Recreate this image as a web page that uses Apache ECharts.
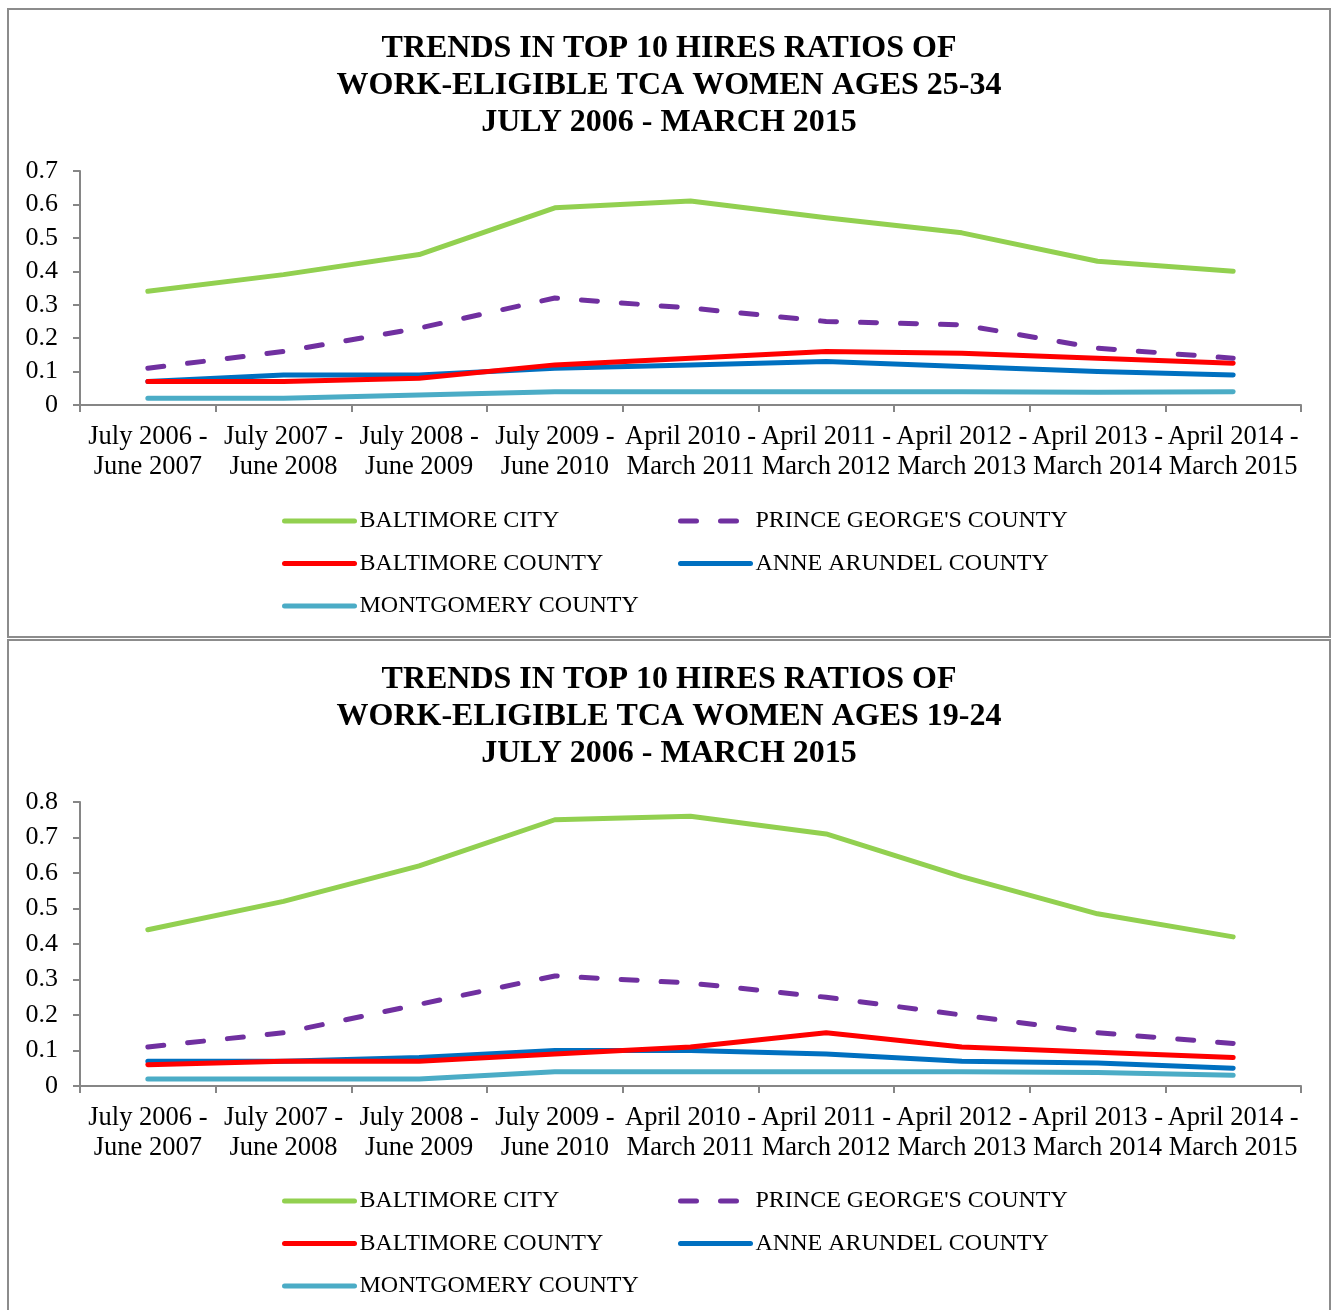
<!DOCTYPE html>
<html>
<head>
<meta charset="utf-8">
<script src="https://cdn.jsdelivr.net/npm/echarts@6/dist/echarts.min.js"></script>
<style>
body { margin: 0; background: #fff; }
.box {
    position: absolute;
    left: 7px;
    width: 1320px;
    border: 2px solid #8c8c8c;
    background: #fff;
}
#chart1 { top: 8px; height: 626px; }
#chart2 { top: 639px; height: 676px; }
</style>
</head>
<body>
<div class="box" id="chart1"></div>
<div class="box" id="chart2"></div>
<script>
var categories = [
    'July 2006 -\nJune 2007', 'July 2007 -\nJune 2008', 'July 2008 -\nJune 2009',
    'July 2009 -\nJune 2010', 'April 2010 -\nMarch 2011', 'April 2011 -\nMarch 2012',
    'April 2012 -\nMarch 2013', 'April 2013 -\nMarch 2014', 'April 2014 -\nMarch 2015'
];
var seriesNames = ['BALTIMORE CITY', "PRINCE GEORGE'S COUNTY", 'BALTIMORE COUNTY', 'ANNE ARUNDEL COUNTY', 'MONTGOMERY COUNTY'];

// women ages 25-34
var baltCity2534 = [0.34, 0.39, 0.45, 0.59, 0.61, 0.56, 0.515, 0.43, 0.40];
var princeGeorge2534 = [0.11, 0.16, 0.23, 0.32, 0.29, 0.25, 0.24, 0.17, 0.14];
var baltCounty2534 = [0.07, 0.07, 0.08, 0.12, 0.14, 0.16, 0.155, 0.14, 0.125];
var anneArundel2534 = [0.07, 0.09, 0.09, 0.11, 0.12, 0.13, 0.115, 0.10, 0.09];
var montgomery2534 = [0.02, 0.02, 0.03, 0.04, 0.04, 0.04, 0.04, 0.038, 0.04];

// women ages 19-24
var baltCity1924 = [0.44, 0.52, 0.62, 0.75, 0.76, 0.71, 0.59, 0.485, 0.42];
var princeGeorge1924 = [0.11, 0.15, 0.23, 0.31, 0.29, 0.25, 0.20, 0.15, 0.12];
var baltCounty1924 = [0.06, 0.07, 0.07, 0.09, 0.11, 0.15, 0.11, 0.095, 0.08];
var anneArundel1924 = [0.07, 0.07, 0.08, 0.10, 0.10, 0.09, 0.07, 0.065, 0.05];
var montgomery1924 = [0.02, 0.02, 0.02, 0.04, 0.04, 0.04, 0.04, 0.038, 0.03];

var colors = ['#92d050', '#7030a0', '#ff0000', '#0070c0', '#4bacc6'];
var font = '"Liberation Serif", "Times New Roman", serif';

function buildOption(title, yMax, legendTop, values) {
    var series = values.map(function (vals, i) {
        return {
            name: seriesNames[i],
            type: 'line',
            data: vals,
            symbol: 'none',
            silent: true,
            z: 10 - i,
            lineStyle: {
                color: colors[i],
                width: 5,
                type: i === 1 ? [16, 24] : 'solid',
                cap: 'round',
                join: 'round'
            },
            itemStyle: { color: colors[i] }
        };
    });
    var legendBase = {
        orient: 'vertical',
        top: legendTop,
        itemWidth: 70,
        itemHeight: 14,
        itemGap: 16.5,
        selectedMode: false,
        itemStyle: { opacity: 0 },
        lineStyle: { width: 5, cap: 'round' },
        textStyle: { fontFamily: font, fontSize: 24, color: '#000', lineHeight: 26 }
    };
    return {
        animation: false,
        textStyle: { fontFamily: font },
        title: {
            text: title,
            left: 'center',
            top: 15,
            textStyle: { fontFamily: font, fontSize: 32, fontWeight: 'bold', color: '#000', lineHeight: 37 }
        },
        legend: [
            Object.assign({ left: 268, data: [seriesNames[0], seriesNames[2], seriesNames[4]] }, legendBase),
            Object.assign({ left: 664, data: [seriesNames[1], seriesNames[3]] }, legendBase)
        ],
        grid: { left: 71, right: 28, top: 161, bottom: 231, containLabel: false },
        xAxis: {
            type: 'category',
            data: categories,
            boundaryGap: true,
            axisLine: { lineStyle: { color: '#868686', width: 2 } },
            axisTick: { show: true, length: 7, lineStyle: { color: '#868686', width: 2 } },
            axisLabel: {
                interval: 0,
                margin: 17,
                color: '#000',
                fontFamily: font,
                fontSize: 26.5,
                lineHeight: 30
            }
        },
        yAxis: {
            type: 'value',
            min: 0,
            max: yMax,
            interval: 0.1,
            splitLine: { show: false },
            axisLine: { show: true, lineStyle: { color: '#868686', width: 2 } },
            axisTick: { show: true, length: 7, lineStyle: { color: '#868686', width: 2 } },
            axisLabel: {
                margin: 22,
                color: '#000',
                fontFamily: font,
                fontSize: 26
            }
        },
        series: series
    };
}

var chart1 = echarts.init(document.getElementById('chart1'));
chart1.setOption(buildOption(
    'TRENDS IN TOP 10 HIRES RATIOS OF\nWORK-ELIGIBLE TCA WOMEN AGES 25-34\nJULY 2006 - MARCH 2015',
    0.7, 493,
    [baltCity2534, princeGeorge2534, baltCounty2534, anneArundel2534, montgomery2534]
));

var chart2 = echarts.init(document.getElementById('chart2'));
chart2.setOption(buildOption(
    'TRENDS IN TOP 10 HIRES RATIOS OF\nWORK-ELIGIBLE TCA WOMEN AGES 19-24\nJULY 2006 - MARCH 2015',
    0.8, 542,
    [baltCity1924, princeGeorge1924, baltCounty1924, anneArundel1924, montgomery1924]
));
</script>
</body>
</html>
